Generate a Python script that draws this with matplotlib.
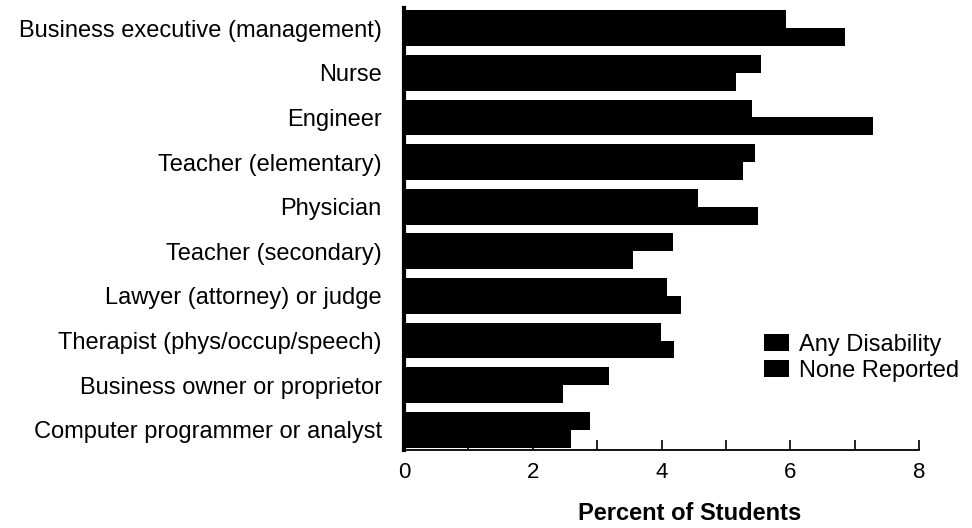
import numpy as np
import matplotlib.pyplot as plt

plt.rcParams["font.family"] = ["Liberation Sans", "DejaVu Sans"]

categories = [
    "Business executive (management)",
    "Nurse",
    "Engineer",
    "Teacher (elementary)",
    "Physician",
    "Teacher (secondary)",
    "Lawyer (attorney) or judge",
    "Therapist (phys/occup/speech)",
    "Business owner or proprietor",
    "Computer programmer or analyst",
]
any_disability = [5.94, 5.54, 5.41, 5.46, 4.57, 4.18, 4.08, 3.99, 3.18, 2.89]
none_reported = [6.85, 5.15, 7.28, 5.27, 5.50, 3.56, 4.30, 4.20, 2.47, 2.59]

fig = plt.figure(figsize=(9.72, 5.28), dpi=100)
# axes placed in figure fractions to line up with the scan
ax = fig.add_axes([404 / 972, 1 - 450 / 528, 515 / 972, 442 / 528])

y = np.arange(len(categories))
h = 0.4

ax.barh(y - h / 2, any_disability, height=h, color="black", label="Any Disability")
ax.barh(y + h / 2, none_reported, height=h, color="black", label="None Reported")

ax.set_ylim(9.45, -0.45)
ax.set_xlim(0, 8)

ax.set_yticks(y)
ax.set_yticklabels(categories, fontsize=17)
ax.tick_params(axis="y", length=0, pad=16)

ax.set_xticks([0, 2, 4, 6, 8])
ax.set_xticks([1, 3, 5, 7], minor=True)
ax.tick_params(axis="x", which="both", direction="in", length=7, width=1.2,
               labelsize=16, pad=9)

ax.spines["top"].set_visible(False)
ax.spines["right"].set_visible(False)
ax.spines["left"].set_linewidth(3)
ax.spines["bottom"].set_linewidth(1.3)

ax.set_xlabel("Percent of Students", fontsize=17, fontweight="bold")
ax.xaxis.set_label_coords(0.555, -0.118)

ax.legend(loc="upper left", bbox_to_anchor=(764 / 972, 1 - 334 / 528),
          bbox_transform=fig.transFigure, frameon=False, fontsize=17,
          handlelength=1.05, handleheight=0.75, handletextpad=0.45,
          labelspacing=0.15, borderpad=0, borderaxespad=0)

fig.savefig("out.png", dpi=100)
